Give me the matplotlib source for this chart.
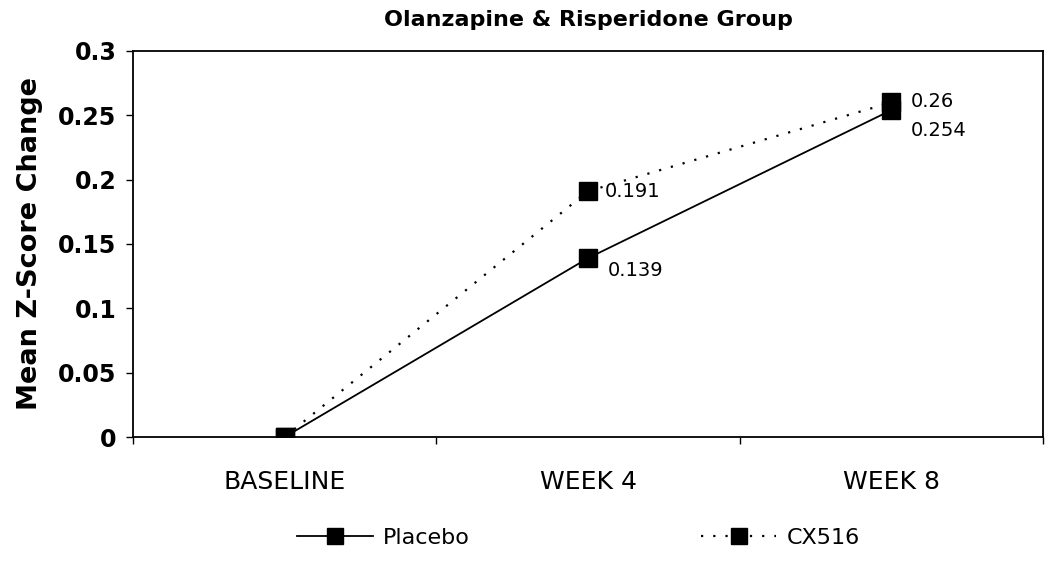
import matplotlib
matplotlib.use("Agg")
import matplotlib.pyplot as plt
from matplotlib.lines import Line2D

categories = ["BASELINE", "WEEK 4", "WEEK 8"]
placebo = [0.0, 0.139, 0.254]
cx516 = [0.0, 0.191, 0.26]
yticks = [0, 0.05, 0.1, 0.15, 0.2, 0.25, 0.3]
ytick_labels = ["0", "0.05", "0.1", "0.15", "0.2", "0.25", "0.3"]

plt.rcParams['font.family'] = ['DejaVu Sans']

fig = plt.figure(figsize=(10.5, 5.62), dpi=100)
ax = fig.add_axes([0.1267, 0.2224, 0.8666, 0.6869])

x = list(range(len(categories)))
ax.plot(x, placebo, color='black', lw=1.3, marker='s', markersize=12.5,
        markerfacecolor='black', markeredgecolor='black', label='Placebo', zorder=3)
ax.plot(x, cx516, color='black', lw=1.6, linestyle=(0, (1, 4.5)), marker='s', markersize=12.5,
        markerfacecolor='black', markeredgecolor='black', label='CX516', zorder=3)

ax.set_xlim(-0.5, 2.5)
ax.set_ylim(0, 0.3)
ax.set_yticks(yticks)
ax.set_yticklabels(ytick_labels, fontsize=17, fontweight='bold')
ax.tick_params(axis='y', direction='out', length=5, width=1, pad=7)

ax.set_xticks(x)
ax.set_xticklabels(categories, fontsize=18)
ax.tick_params(axis='x', which='major', length=0, pad=24)
ax.set_xticks([-0.5, 0.5, 1.5, 2.5], minor=True)
ax.tick_params(axis='x', which='minor', direction='out', length=5, width=1)

for s in ax.spines.values():
    s.set_linewidth(1.3)
    s.set_color('black')

ax.set_ylabel("Mean Z-Score Change", fontsize=19.5, fontweight='bold', labelpad=11)
ax.set_title("Olanzapine & Risperidone Group", fontsize=16, fontweight='bold', pad=18)

# data labels
offsets_cx = [None, (12, 0), (14, 1)]
offsets_pl = [None, (14, -9), (14, -15)]
for i in range(1, 3):
    ax.annotate(f"{cx516[i]:g}", (x[i], cx516[i]), xytext=offsets_cx[i],
                textcoords='offset points', ha='left', va='center', fontsize=14)
    ax.annotate(f"{placebo[i]:g}", (x[i], placebo[i]), xytext=offsets_pl[i],
                textcoords='offset points', ha='left', va='center', fontsize=14)

handles = [
    Line2D([], [], color='black', lw=1.3, marker='s', markersize=12, label='Placebo'),
    Line2D([], [], color='black', lw=1.6, linestyle=(0, (1, 4.5)), marker='s', markersize=12, label='CX516'),
]
fig.legend(handles=handles, loc='center', bbox_to_anchor=(0.551, 0.043), ncol=2,
           frameon=False, fontsize=16, handlelength=3.4, handletextpad=0.45,
           columnspacing=10.4, numpoints=1, borderpad=0)

fig.savefig("out.png", dpi=100, facecolor='white')
